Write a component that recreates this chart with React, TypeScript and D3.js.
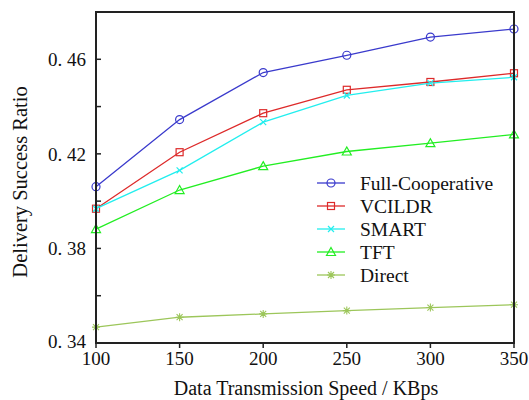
import React from "react";
import * as d3 from "d3";

const speeds = [100, 150, 200, 250, 300, 350];
const fullCoop = [0.4061, 0.4345, 0.4544, 0.4617, 0.4694, 0.4728];
const vcildr = [0.3968, 0.4207, 0.4372, 0.4471, 0.4504, 0.4541];
const smart = [0.3968, 0.413, 0.4334, 0.4447, 0.4499, 0.4524];
const tft = [0.3882, 0.4047, 0.4148, 0.421, 0.4245, 0.4282];
const direct = [0.3467, 0.3509, 0.3523, 0.3537, 0.355, 0.3562];

const seriesNames = ["Full-Cooperative", "VCILDR", "SMART", "TFT", "Direct"];
const seriesColors = ["#3a3acc", "#dd2a2a", "#22eeee", "#22ee22", "#9cc65a"];
const seriesMarkers = ["circle", "square", "x", "triangle", "star"];
const seriesValues = [fullCoop, vcildr, smart, tft, direct];

const yTicks = [0.34, 0.36, 0.38, 0.4, 0.42, 0.44, 0.46, 0.48];
const yLabelTicks = [0.34, 0.38, 0.42, 0.46];

const W = 529;
const H = 400;
const M = { left: 96, right: 514, top: 12, bottom: 343 };
const FONT = "'Liberation Serif', 'Times New Roman', serif";

function Marker({ type, x, y, color }: { type: string; x: number; y: number; color: string }) {
  if (type === "circle") return <circle cx={x} cy={y} r={4} fill="none" stroke={color} strokeWidth={1.2} />;
  if (type === "square")
    return <rect x={x - 3.5} y={y - 3.5} width={7} height={7} fill="none" stroke={color} strokeWidth={1.2} />;
  if (type === "triangle")
    return (
      <path d={`M${x},${y - 4.5}L${x + 4.5},${y + 3.5}L${x - 4.5},${y + 3.5}Z`} fill="none" stroke={color} strokeWidth={1.2} />
    );
  if (type === "x")
    return (
      <path d={`M${x - 3},${y - 3}L${x + 3},${y + 3}M${x - 3},${y + 3}L${x + 3},${y - 3}`} stroke={color} strokeWidth={1.2} />
    );
  return (
    <path
      d={`M${x - 3},${y - 3}L${x + 3},${y + 3}M${x - 3},${y + 3}L${x + 3},${y - 3}M${x},${y - 4}L${x},${y + 4}M${x - 4},${y}L${x + 4},${y}`}
      stroke={color}
      strokeWidth={1.1}
    />
  );
}

export default function App() {
  const x = d3.scaleLinear().domain([100, 350]).range([M.left, M.right]);
  const y = d3.scaleLinear().domain([0.34, 0.48]).range([M.bottom, M.top]);
  const line = d3
    .line<number>()
    .x((_, i) => x(speeds[i]))
    .y((d) => y(d));
  const fmt = (v: number) => d3.format(".2f")(v).replace(".", ". ");

  const legendX = 317;
  const legendY0 = 183;
  const legendDy = 23;

  return (
    <svg width={W} height={H} style={{ position: "absolute", left: 0, top: 0, background: "#fff" }} fontFamily={FONT}>
      {seriesValues.map((vals, si) => (
        <g key={si}>
          <path d={line(vals) || ""} fill="none" stroke={seriesColors[si]} strokeWidth={1.3} />
          {vals.map((v, i) => (
            <Marker key={i} type={seriesMarkers[si]} x={x(speeds[i])} y={y(v)} color={seriesColors[si]} />
          ))}
        </g>
      ))}
      {yTicks.map((t) => (
        <line key={t} x1={M.left} x2={M.left + 5} y1={y(t)} y2={y(t)} stroke="#222" strokeWidth={1.5} />
      ))}
      {yLabelTicks.map((t) => (
        <text key={t} x={86} y={y(t) - (t === 0.34 ? 2 : 0)} dy="0.35em" textAnchor="end" fontSize={19} fill="#111">
          {fmt(t)}
        </text>
      ))}
      {speeds.map((s) => (
        <g key={s}>
          <line x1={x(s)} x2={x(s)} y1={M.bottom} y2={M.bottom + 5} stroke="#222" strokeWidth={1.5} />
          <text x={x(s)} y={365} textAnchor="middle" fontSize={19} fill="#111">
            {s}
          </text>
        </g>
      ))}
      <rect
        x={M.left}
        y={M.top}
        width={M.right - M.left}
        height={M.bottom - M.top}
        fill="none"
        stroke="#222"
        strokeWidth={2}
      />
      <text x={306} y={395} textAnchor="middle" fontSize={20} fill="#111">
        Data Transmission Speed / KBps
      </text>
      <text transform={`translate(27,182) rotate(-90)`} textAnchor="middle" fontSize={20.5} fill="#111">
        Delivery Success Ratio
      </text>
      {seriesNames.map((n, i) => {
        const ly = legendY0 + i * legendDy;
        return (
          <g key={n}>
            <line x1={legendX} x2={legendX + 28} y1={ly} y2={ly} stroke={seriesColors[i]} strokeWidth={1.3} />
            <Marker type={seriesMarkers[i]} x={legendX + 14} y={ly} color={seriesColors[i]} />
            <text x={360} y={ly} dy="0.35em" fontSize={19.5} fill="#111">
              {n}
            </text>
          </g>
        );
      })}
    </svg>
  );
}
